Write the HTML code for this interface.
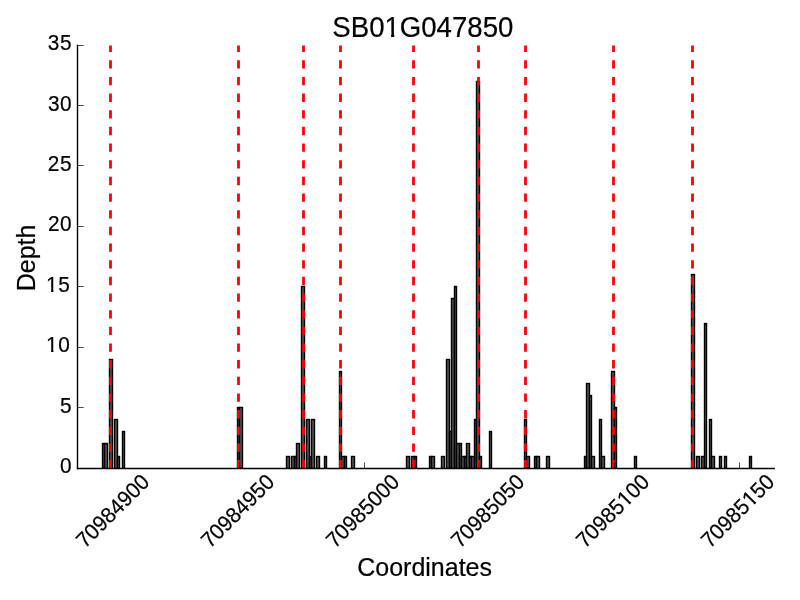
<!DOCTYPE html>
<html><head><meta charset="utf-8"><title>SB01G047850</title>
<style>html,body{margin:0;padding:0;background:#fff;}svg{display:block;}text{font-family:"Liberation Sans",Arial,Helvetica,sans-serif;fill:#000;stroke:#000;stroke-width:0.2px;}</style>
</head><body>
<svg width="800" height="600" viewBox="0 0 800 600">
<rect x="0" y="0" width="800" height="600" fill="#fff"/>
<clipPath id="ab"><rect x="0" y="0" width="800" height="468.5"/></clipPath>
<g fill="#555" stroke="#000" stroke-width="1.39" stroke-linejoin="miter" clip-path="url(#ab)">
<rect x="102.5" y="443.5" width="2.0" height="25.0"/>
<rect x="104.5" y="443.5" width="3.0" height="25.0"/>
<rect x="109.5" y="359.5" width="3.0" height="109.0"/>
<rect x="114.5" y="419.5" width="3.0" height="49.0"/>
<rect x="117.5" y="456.5" width="2.0" height="12.0"/>
<rect x="122.5" y="431.5" width="2.0" height="37.0"/>
<rect x="237.5" y="407.5" width="2.0" height="61.0"/>
<rect x="239.5" y="407.5" width="3.0" height="61.0"/>
<rect x="286.5" y="456.5" width="3.0" height="12.0"/>
<rect x="291.5" y="456.5" width="3.0" height="12.0"/>
<rect x="294.5" y="456.5" width="2.0" height="12.0"/>
<rect x="296.5" y="443.5" width="3.0" height="25.0"/>
<rect x="301.5" y="286.5" width="3.0" height="182.0"/>
<rect x="306.5" y="419.5" width="3.0" height="49.0"/>
<rect x="309.5" y="456.5" width="2.0" height="12.0"/>
<rect x="311.5" y="419.5" width="3.0" height="49.0"/>
<rect x="316.5" y="456.5" width="3.0" height="12.0"/>
<rect x="324.5" y="456.5" width="2.0" height="12.0"/>
<rect x="339.5" y="371.5" width="2.0" height="97.0"/>
<rect x="341.5" y="456.5" width="3.0" height="12.0"/>
<rect x="344.5" y="456.5" width="2.0" height="12.0"/>
<rect x="351.5" y="456.5" width="3.0" height="12.0"/>
<rect x="406.5" y="456.5" width="3.0" height="12.0"/>
<rect x="411.5" y="456.5" width="3.0" height="12.0"/>
<rect x="414.5" y="456.5" width="2.0" height="12.0"/>
<rect x="429.5" y="456.5" width="2.0" height="12.0"/>
<rect x="431.5" y="456.5" width="3.0" height="12.0"/>
<rect x="441.5" y="456.5" width="3.0" height="12.0"/>
<rect x="446.5" y="359.5" width="3.0" height="109.0"/>
<rect x="449.5" y="431.5" width="2.0" height="37.0"/>
<rect x="451.5" y="298.5" width="3.0" height="170.0"/>
<rect x="454.5" y="286.5" width="2.0" height="182.0"/>
<rect x="456.5" y="443.5" width="3.0" height="25.0"/>
<rect x="459.5" y="443.5" width="2.0" height="25.0"/>
<rect x="461.5" y="456.5" width="3.0" height="12.0"/>
<rect x="464.5" y="456.5" width="2.0" height="12.0"/>
<rect x="466.5" y="443.5" width="3.0" height="25.0"/>
<rect x="469.5" y="456.5" width="2.0" height="12.0"/>
<rect x="471.5" y="456.5" width="3.0" height="12.0"/>
<rect x="474.5" y="419.5" width="2.0" height="49.0"/>
<rect x="476.5" y="81.5" width="3.0" height="387.0"/>
<rect x="479.5" y="456.5" width="2.0" height="12.0"/>
<rect x="489.5" y="431.5" width="2.0" height="37.0"/>
<rect x="524.5" y="419.5" width="2.0" height="49.0"/>
<rect x="526.5" y="456.5" width="3.0" height="12.0"/>
<rect x="534.5" y="456.5" width="2.0" height="12.0"/>
<rect x="536.5" y="456.5" width="3.0" height="12.0"/>
<rect x="546.5" y="456.5" width="3.0" height="12.0"/>
<rect x="584.5" y="456.5" width="2.0" height="12.0"/>
<rect x="586.5" y="383.5" width="3.0" height="85.0"/>
<rect x="589.5" y="395.5" width="2.0" height="73.0"/>
<rect x="591.5" y="456.5" width="3.0" height="12.0"/>
<rect x="599.5" y="419.5" width="2.0" height="49.0"/>
<rect x="601.5" y="456.5" width="3.0" height="12.0"/>
<rect x="611.5" y="371.5" width="3.0" height="97.0"/>
<rect x="614.5" y="407.5" width="2.0" height="61.0"/>
<rect x="634.5" y="456.5" width="2.0" height="12.0"/>
<rect x="691.5" y="274.5" width="3.0" height="194.0"/>
<rect x="696.5" y="456.5" width="3.0" height="12.0"/>
<rect x="701.5" y="456.5" width="3.0" height="12.0"/>
<rect x="704.5" y="323.5" width="2.0" height="145.0"/>
<rect x="709.5" y="419.5" width="2.0" height="49.0"/>
<rect x="711.5" y="456.5" width="3.0" height="12.0"/>
<rect x="719.5" y="456.5" width="2.0" height="12.0"/>
<rect x="724.5" y="456.5" width="2.0" height="12.0"/>
<rect x="749.5" y="456.5" width="2.0" height="12.0"/>
</g>
<g stroke="#f00" stroke-width="2.78" stroke-dasharray="8.33 8.33" fill="none">
<line x1="110.5" y1="468.4" x2="110.5" y2="45.5"/>
<line x1="238.5" y1="468.4" x2="238.5" y2="45.5"/>
<line x1="303.5" y1="468.4" x2="303.5" y2="45.5"/>
<line x1="340.5" y1="468.4" x2="340.5" y2="45.5"/>
<line x1="413.5" y1="468.4" x2="413.5" y2="45.5"/>
<line x1="478.5" y1="468.4" x2="478.5" y2="45.5"/>
<line x1="525.5" y1="468.4" x2="525.5" y2="45.5"/>
<line x1="613.5" y1="468.4" x2="613.5" y2="45.5"/>
<line x1="692.5" y1="468.4" x2="692.5" y2="45.5"/>
</g>
<g stroke="#000" stroke-width="0.7" fill="none">
<line x1="114.5" y1="468.5" x2="114.5" y2="462.5"/>
<line x1="239.5" y1="468.5" x2="239.5" y2="462.5"/>
<line x1="364.5" y1="468.5" x2="364.5" y2="462.5"/>
<line x1="489.5" y1="468.5" x2="489.5" y2="462.5"/>
<line x1="614.5" y1="468.5" x2="614.5" y2="462.5"/>
<line x1="739.5" y1="468.5" x2="739.5" y2="462.5"/>
<line x1="77.5" y1="468.5" x2="83.7" y2="468.5"/>
<line x1="77.5" y1="407.5" x2="83.7" y2="407.5"/>
<line x1="77.5" y1="347.5" x2="83.7" y2="347.5"/>
<line x1="77.5" y1="286.5" x2="83.7" y2="286.5"/>
<line x1="77.5" y1="226.5" x2="83.7" y2="226.5"/>
<line x1="77.5" y1="165.5" x2="83.7" y2="165.5"/>
<line x1="77.5" y1="105.5" x2="83.7" y2="105.5"/>
<line x1="77.5" y1="45.5" x2="83.7" y2="45.5"/>
</g>
<g stroke="#000" stroke-width="1.39" fill="none" stroke-linecap="square">
<line x1="77.5" y1="468.5" x2="774.2" y2="468.5"/>
<line x1="77.5" y1="468.5" x2="77.5" y2="45.5"/>
</g>
<g transform="translate(332.35,36.8) scale(1,1.04)"><text font-size="27.6" text-anchor="start">SB01G047850</text><rect x="52.98" y="-4.04" width="5.79" height="5.84" fill="#fff"/><rect x="61.88" y="-4.04" width="5.98" height="5.84" fill="#fff"/></g>
<g transform="translate(72.00,472.80) scale(1,1.04)"><text font-size="20.83" text-anchor="end" letter-spacing="0.50">0</text></g>
<g transform="translate(72.10,412.80) scale(1,1.04)"><text font-size="20.83" text-anchor="end" letter-spacing="0.50">5</text></g>
<g transform="translate(70.30,351.85) scale(1,1.04)"><text font-size="20.83" text-anchor="end" letter-spacing="0.50">10</text><rect x="-23.56" y="-3.05" width="4.37" height="4.85" fill="#fff"/><rect x="-16.84" y="-3.05" width="4.52" height="4.85" fill="#fff"/></g>
<g transform="translate(70.30,291.85) scale(1,1.04)"><text font-size="20.83" text-anchor="end" letter-spacing="0.50">15</text><rect x="-23.56" y="-3.05" width="4.37" height="4.85" fill="#fff"/><rect x="-16.84" y="-3.05" width="4.52" height="4.85" fill="#fff"/></g>
<g transform="translate(72.10,230.70) scale(1,1.04)"><text font-size="20.83" text-anchor="end" letter-spacing="0.50">20</text></g>
<g transform="translate(72.00,170.70) scale(1,1.04)"><text font-size="20.83" text-anchor="end" letter-spacing="0.50">25</text></g>
<g transform="translate(72.10,110.70) scale(1,1.04)"><text font-size="20.83" text-anchor="end" letter-spacing="0.50">30</text></g>
<g transform="translate(72.00,49.80) scale(1,1.04)"><text font-size="20.83" text-anchor="end" letter-spacing="0.50">35</text></g>
<g transform="translate(150.8,483.2) rotate(-45) scale(1,1.04)"><text font-size="20.97" text-anchor="end">70984900</text></g>
<g transform="translate(275.8,483.2) rotate(-45) scale(1,1.04)"><text font-size="20.97" text-anchor="end">70984950</text></g>
<g transform="translate(400.8,483.2) rotate(-45) scale(1,1.04)"><text font-size="20.97" text-anchor="end">70985000</text></g>
<g transform="translate(525.8,483.2) rotate(-45) scale(1,1.04)"><text font-size="20.97" text-anchor="end">70985050</text></g>
<g transform="translate(650.8,483.2) rotate(-45) scale(1,1.04)"><text font-size="20.97" text-anchor="end">70985100</text><rect x="-34.37" y="-3.07" width="4.40" height="4.87" fill="#fff"/><rect x="-27.61" y="-3.07" width="4.55" height="4.87" fill="#fff"/></g>
<g transform="translate(775.8,483.2) rotate(-45) scale(1,1.04)"><text font-size="20.97" text-anchor="end">70985150</text><rect x="-34.37" y="-3.07" width="4.40" height="4.87" fill="#fff"/><rect x="-27.61" y="-3.07" width="4.55" height="4.87" fill="#fff"/></g>
<text transform="translate(424.6,576.0) scale(1,1.05)" font-size="25" text-anchor="middle">Coordinates</text>
<text transform="translate(34.7,257.9) rotate(-90) scale(1,1.04)" font-size="25" text-anchor="middle">Depth</text>
</svg>
</body></html>
